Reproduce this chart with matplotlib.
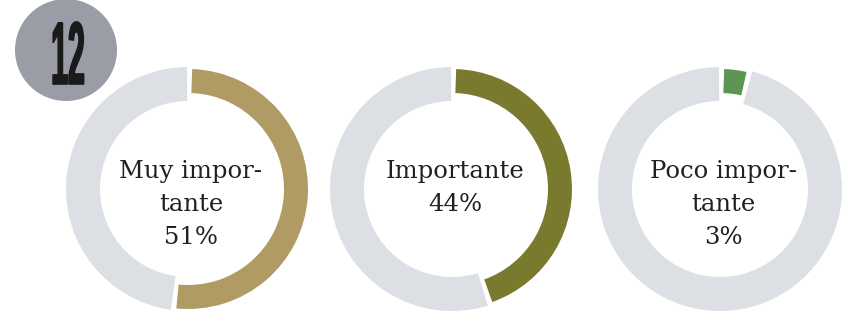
import matplotlib.pyplot as plt
from matplotlib.patches import Wedge, Circle
from matplotlib.patheffects import AbstractPathEffect
from matplotlib.transforms import Affine2D

etiquetas = ["Muy impor-\ntante", "Importante", "Poco impor-\ntante"]
valores = [51, 44, 3]
colores = ["#b09b65", "#7a7a2f", "#5b9653"]
gris = "#dcdfe3"

centros_x = [188, 452, 720]
centro_y = 319 - 189
R = 122
ancho_gris = 34
ancho_color = 24
hueco = 2.5
inicio = 88


class Estrecho(AbstractPathEffect):
    # aprieta el texto en horizontal (letra condensada) y lo engorda un poco
    def __init__(self, sx, cx, grosor):
        super().__init__()
        self.sx = sx
        self.cx = cx
        self.grosor = grosor

    def draw_path(self, renderer, gc, tpath, affine, rgbFace=None):
        t = affine + Affine2D().translate(-self.cx, 0).scale(self.sx, 1).translate(self.cx, 0)
        gc0 = renderer.new_gc()
        gc0.copy_properties(gc)
        gc0.set_linewidth(self.grosor)
        gc0.set_foreground(rgbFace)
        renderer.draw_path(gc0, tpath, t, rgbFace)
        gc0.restore()


fig = plt.figure(figsize=(8.63, 3.19), dpi=100)
ax = fig.add_axes([0, 0, 1, 1])
ax.set_xlim(0, 863)
ax.set_ylim(0, 319)
ax.axis("off")

for cx, val, col, lab in zip(centros_x, valores, colores, etiquetas):
    fin = inicio - 360 * val / 100
    # parte gris (resto)
    ax.add_patch(Wedge((cx, centro_y), R, inicio + hueco, fin + 360 - hueco,
                       width=ancho_gris, facecolor=gris, edgecolor="none"))
    # parte de color
    ax.add_patch(Wedge((cx, centro_y), R - 2, fin, inicio,
                       width=ancho_color, facecolor=col, edgecolor="none"))
    ax.text(cx + 3, 319 - 160, lab + "\n" + str(val) + "%", ha="center",
            va="top", fontsize=17.5, family="DejaVu Serif",
            color="#231f20", linespacing=1.55)

# numero del grafico
ax.add_patch(Circle((66, 319 - 50), 51, facecolor="#9a9ca6", edgecolor="none"))
ax.text(68, 319 - 61, "12", ha="center", va="center", fontsize=64,
        family="Liberation Sans", weight="bold", color="#1a1a1a",
        path_effects=[Estrecho(0.34, 68, 1.2)])

fig.savefig("out.png", dpi=100)
